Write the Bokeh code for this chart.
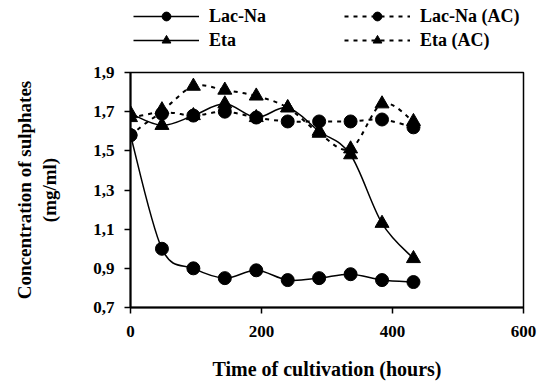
import numpy as np
from bokeh.plotting import figure
from bokeh.layouts import column
from bokeh.models import Range1d, FixedTicker, Legend, LegendItem, ColumnDataSource
from bokeh.embed import file_html
from bokeh.resources import INLINE

# Sampling times (hours) and sulphate concentrations (mg/ml)
hours = [0, 48, 96, 144, 192, 240, 288, 336, 384, 432]
lac_na = [1.58, 1.00, 0.90, 0.85, 0.89, 0.84, 0.85, 0.87, 0.84, 0.83]
lac_na_ac = [1.58, 1.69, 1.68, 1.70, 1.67, 1.65, 1.65, 1.65, 1.66, 1.62]
eta = [1.69, 1.63, 1.68, 1.74, 1.67, 1.72, 1.60, 1.48, 1.13, 0.95]
eta_ac = [1.67, 1.71, 1.83, 1.81, 1.78, 1.72, 1.59, 1.51, 1.74, 1.65]

x_ticks = [0, 200, 400, 600]
y_ticks = [0.7, 0.9, 1.1, 1.3, 1.5, 1.7, 1.9]
y_tick_labels = ["0,7", "0,9", "1,1", "1,3", "1,5", "1,7", "1,9"]

FONT = "Liberation Serif"


def bezier_segments(xs, ys):
    """Smoothed-line control points (Catmull-Rom style) between consecutive points."""
    xs = np.asarray(xs, float)
    ys = np.asarray(ys, float)
    n = len(xs)
    seg = dict(x0=[], y0=[], x1=[], y1=[], cx0=[], cy0=[], cx1=[], cy1=[])
    for i in range(n - 1):
        i0 = max(i - 1, 0)
        i3 = min(i + 2, n - 1)
        seg["x0"].append(xs[i]); seg["y0"].append(ys[i])
        seg["x1"].append(xs[i + 1]); seg["y1"].append(ys[i + 1])
        seg["cx0"].append(xs[i] + (xs[i + 1] - xs[i0]) / 6)
        seg["cy0"].append(ys[i] + (ys[i + 1] - ys[i0]) / 6)
        seg["cx1"].append(xs[i + 1] - (xs[i3] - xs[i]) / 6)
        seg["cy1"].append(ys[i + 1] - (ys[i3] - ys[i]) / 6)
    return ColumnDataSource(seg)


series = [
    ("Lac-Na", lac_na, "solid", "circle", 13),
    ("Eta", eta, "solid", "triangle", 14),
    ("Lac-Na (AC)", lac_na_ac, "4 5", "circle", 13),
    ("Eta (AC)", eta_ac, "4 5", "triangle", 14),
]

# ---- main chart ----
p = figure(width=560, height=328, output_backend="svg", toolbar_location=None,
           x_range=Range1d(0, 600), y_range=Range1d(0.7, 1.9),
           min_border_left=130, min_border_right=37,
           min_border_top=12, min_border_bottom=81)
p.background_fill_color = "white"
p.border_fill_color = "white"
p.outline_line_color = "black"
p.outline_line_width = 1.5
p.xgrid.visible = False
p.ygrid.visible = False

for name, vals, dash, marker, size in series:
    lw = 1.5 if dash == "solid" else 2
    p.bezier(x0="x0", y0="y0", x1="x1", y1="y1", cx0="cx0", cy0="cy0",
             cx1="cx1", cy1="cy1", source=bezier_segments(hours, vals),
             line_color="black", line_width=lw, line_dash=dash)
    p.scatter(hours, vals, marker=marker, size=size,
              fill_color="black", line_color="black")

for axis in (p.xaxis[0], p.yaxis[0]):
    axis.axis_line_color = "black"
    axis.axis_line_width = 2
    axis.major_tick_line_color = "black"
    axis.major_tick_line_width = 1.5
    axis.major_tick_out = 6
    axis.major_tick_in = 0
    axis.minor_tick_line_color = None
    axis.major_label_text_font = FONT
    axis.major_label_text_font_style = "bold"
    axis.major_label_text_font_size = "17px"
    axis.major_label_text_color = "black"
    axis.axis_label_text_font = FONT
    axis.axis_label_text_font_style = "bold"
    axis.axis_label_text_color = "black"

p.xaxis.ticker = FixedTicker(ticks=x_ticks)
p.xaxis.major_label_standoff = 12
p.xaxis.axis_label = "Time of cultivation (hours)"
p.xaxis.axis_label_text_font_size = "20px"
p.xaxis.axis_label_standoff = 18

p.yaxis.ticker = FixedTicker(ticks=y_ticks)
p.yaxis.major_label_overrides = {t: s for t, s in zip(y_ticks, y_tick_labels)}
p.yaxis.major_label_standoff = 10
p.yaxis.axis_label = "Concentration of sulphates\n(mg/ml)"
p.yaxis.axis_label_text_font_size = "19px"
p.yaxis.axis_label_standoff = 30

# ---- key strip above the chart (its own renderers sit outside its ranges) ----
k = figure(width=560, height=60, output_backend="svg", toolbar_location=None,
           x_range=Range1d(-2, -1), y_range=Range1d(-2, -1),
           min_border_left=130, min_border_right=37,
           min_border_top=52, min_border_bottom=0, outline_line_color=None)
k.axis.visible = False
k.grid.visible = False
k.background_fill_color = "white"
k.border_fill_color = "white"

items = []
for name, vals, dash, marker, size in series:
    lw = 1.5 if dash == "solid" else 2
    kl = k.line(hours, vals, line_color="black", line_width=lw, line_dash=dash)
    km = k.scatter(hours, vals, marker=marker, size=size - 1,
                   fill_color="black", line_color="black")
    items.append(LegendItem(label=name, renderers=[kl, km]))

key = Legend(items=items, location="top_left", orientation="vertical", ncols=2,
             glyph_width=66, glyph_height=22, label_height=22, label_width=133,
             label_standoff=10, spacing=2, padding=0, margin=3,
             border_line_color=None, background_fill_alpha=0,
             label_text_font=FONT, label_text_font_style="bold",
             label_text_font_size="18px", label_text_color="black")
k.add_layout(key, "above")

layout = column(k, p, spacing=0)
open("out.html", "w").write(file_html(layout, INLINE))
